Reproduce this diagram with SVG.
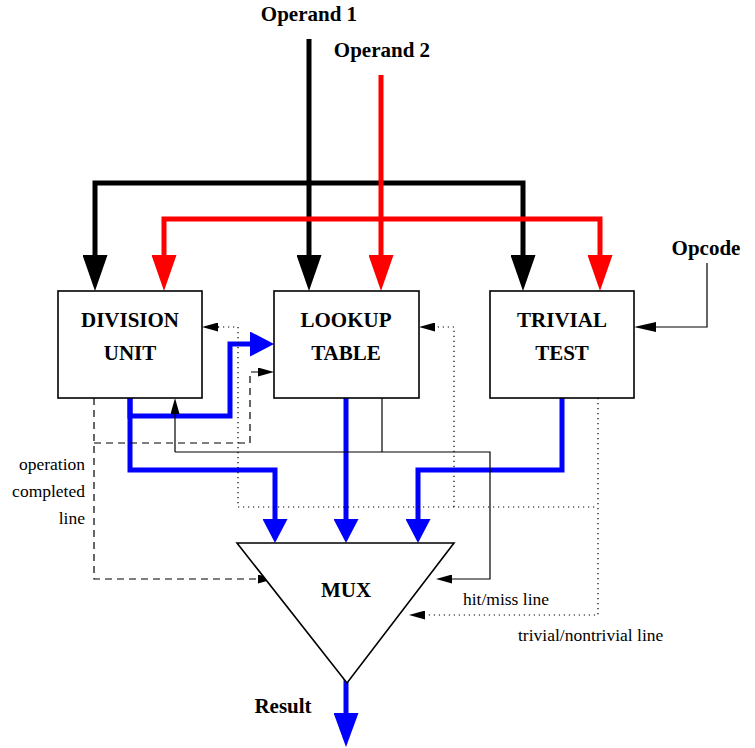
<svg xmlns="http://www.w3.org/2000/svg" width="755" height="748" viewBox="0 0 755 748">
  <style>
    .box { fill: #fff; stroke: #000; stroke-width: 1.6; }
    .mux { fill: #fff; stroke: #000; stroke-width: 1.6; stroke-linejoin: miter; }
    .lbl { font-family: "Liberation Serif", "Times New Roman", serif; font-weight: bold; font-size: 21px; fill: #000; text-anchor: middle; }
    .note { font-family: "Liberation Serif", "Times New Roman", serif; font-size: 17.5px; fill: #000; }
    .bus { fill: none; stroke-width: 5; stroke-linejoin: miter; stroke-linecap: butt; }
    .blk { stroke: #000; }
    .red { stroke: #ff0000; }
    .blu { stroke: #0000ff; }
    .thin { fill: none; stroke: #000; stroke-width: 1.2; }
    .dash { stroke-dasharray: 7 5; }
    .dot { stroke-dasharray: 1.2 3.8; }
  </style>
  <defs>
    <marker id="arrK" markerUnits="userSpaceOnUse" markerWidth="36" markerHeight="25" refX="0" refY="12.5" orient="auto">
      <path d="M0,0 L36,12.5 L0,25 z" fill="#000"/>
    </marker>
    <marker id="arrR" markerUnits="userSpaceOnUse" markerWidth="36" markerHeight="25" refX="0" refY="12.5" orient="auto">
      <path d="M0,0 L36,12.5 L0,25 z" fill="#ff0000"/>
    </marker>
    <marker id="arrB" markerUnits="userSpaceOnUse" markerWidth="24" markerHeight="25" refX="0" refY="12.5" orient="auto">
      <path d="M0,0 L24,12.5 L0,25 z" fill="#0000ff"/>
    </marker>
    <marker id="arrBL" markerUnits="userSpaceOnUse" markerWidth="34" markerHeight="25" refX="0" refY="12.5" orient="auto">
      <path d="M0,0 L34,12.5 L0,25 z" fill="#0000ff"/>
    </marker>
    <marker id="arrT" markerUnits="userSpaceOnUse" markerWidth="16" markerHeight="9" refX="0" refY="4.5" orient="auto">
      <path d="M0,0 L16,4.5 L0,9 z" fill="#000"/>
    </marker>
    <marker id="arrOp" markerUnits="userSpaceOnUse" markerWidth="22" markerHeight="10" refX="0" refY="5" orient="auto">
      <path d="M0,0 L22,5 L0,10 z" fill="#000"/>
    </marker>
  </defs>

  <!-- external input labels -->
  <text class="lbl" x="309" y="21">Operand 1</text>
  <text class="lbl" x="382" y="57">Operand 2</text>
  <text class="lbl" x="706" y="255">Opcode</text>
  <text class="lbl" x="283" y="713">Result</text>

  <g id="connectors">
    <!-- operand 1 bus (black) -->
    <path class="bus blk" d="M309,39 V255" marker-end="url(#arrK)"/>
    <path class="bus blk" d="M309,183 H95 V255" marker-end="url(#arrK)"/>
    <path class="bus blk" d="M309,183 H523 V255" marker-end="url(#arrK)"/>
    <!-- operand 2 bus (red) -->
    <path class="bus red" d="M381,75 V255" marker-end="url(#arrR)"/>
    <path class="bus red" d="M381,219 H164 V255" marker-end="url(#arrR)"/>
    <path class="bus red" d="M381,219 H600 V255" marker-end="url(#arrR)"/>

    <!-- result paths (blue) -->
    <path class="bus blu" d="M130,398 V416 H230 V344 H250" marker-end="url(#arrB)"/>
    <path class="bus blu" d="M130,398 V470 H275 V519" marker-end="url(#arrB)"/>
    <path class="bus blu" d="M346,398 V519" marker-end="url(#arrB)"/>
    <path class="bus blu" d="M562,398 V470 H418 V519" marker-end="url(#arrB)"/>
    <path class="bus blu" d="M346,679 V713" marker-end="url(#arrBL)"/>

    <!-- opcode -->
    <path class="thin" d="M707,263 V327 H656" marker-end="url(#arrOp)"/>

    <!-- hit/miss line (solid) -->
    <path class="thin" d="M382,398 V452"/>
    <path class="thin" d="M175,452 H490 V579 H452" marker-end="url(#arrT)"/>
    <path class="thin" d="M175,452 V414" marker-end="url(#arrT)"/>

    <!-- trivial/nontrivial line (dotted) -->
    <path class="thin dot" d="M598,398 V615 H425" marker-end="url(#arrT)"/>
    <path class="thin dot" d="M218,327 H238 V507 H598"/>
    <path class="thin" d="M219,327 H218" marker-end="url(#arrT)"/>
    <path class="thin dot" d="M454,507 V327 H435" marker-end="url(#arrT)"/>

    <!-- operation completed line (dashed) -->
    <path class="thin dash" d="M94,398 V579 H258" marker-end="url(#arrT)"/>
    <path class="thin dash" d="M94,443 H250 V372 H258" marker-end="url(#arrT)"/>
  </g>

  <g id="division-unit">
    <rect class="box" x="58" y="291" width="144" height="107"/>
    <text class="lbl" x="130" y="327">DIVISION</text>
    <text class="lbl" x="130" y="360">UNIT</text>
  </g>

  <g id="lookup-table">
    <rect class="box" x="274" y="291" width="145" height="107"/>
    <text class="lbl" x="346" y="327">LOOKUP</text>
    <text class="lbl" x="346" y="360">TABLE</text>
  </g>

  <g id="trivial-test">
    <rect class="box" x="490" y="291" width="144" height="107"/>
    <text class="lbl" x="562" y="327">TRIVIAL</text>
    <text class="lbl" x="562" y="360">TEST</text>
  </g>

  <g id="mux">
    <path class="mux" d="M237,543 H454 L347,683 z"/>
    <text class="lbl" x="346" y="597">MUX</text>
  </g>

  <!-- line captions -->
  <g id="captions">
    <text class="note" x="85" y="470" text-anchor="end">operation</text>
    <text class="note" x="85" y="497" text-anchor="end">completed</text>
    <text class="note" x="85" y="524" text-anchor="end">line</text>
    <text class="note" x="463" y="605">hit/miss line</text>
    <text class="note" x="518" y="641">trivial/nontrivial line</text>
  </g>
</svg>
